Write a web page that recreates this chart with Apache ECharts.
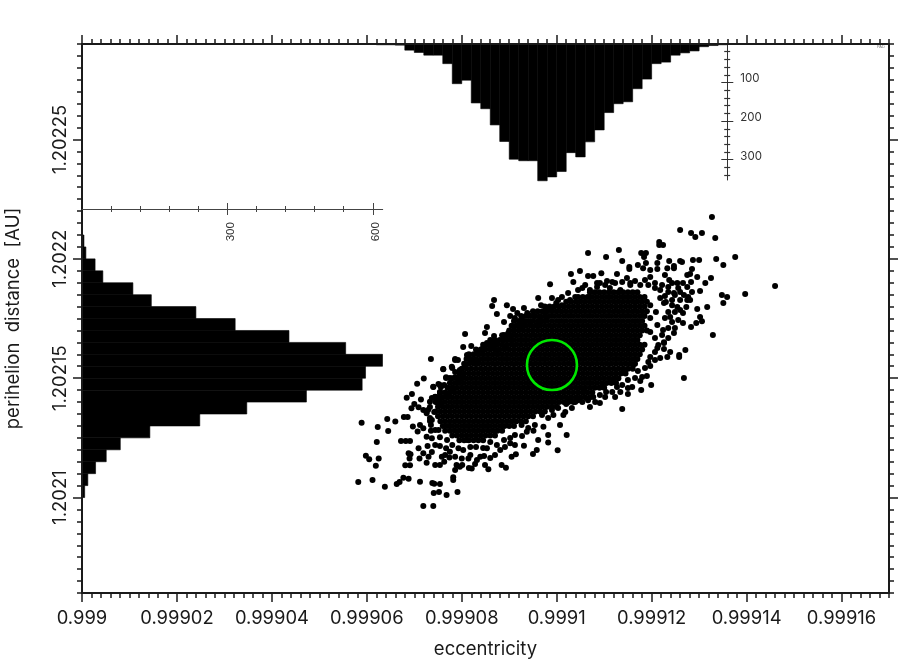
<!DOCTYPE html>
<html><head><meta charset="utf-8">
<style>html,body{margin:0;padding:0;background:#fff}#c{width:900px;height:660px}</style>
<script src="https://cdn.jsdelivr.net/npm/echarts@6/dist/echarts.min.js"></script>
</head><body><div id="c"></div>
<script>
// Scatter values are stored in units of 1e-7: eccentricity = 0.999 + e*1e-7, perihelion = 1.202 + q*1e-7
const fringePoints = [
[589,1313],[623,1295],[643,1329],[660,1319],[645,1279],[621,1233],[598,1175],[605,1160],[625,1163],[619,1133],[582,1065],[612,1073],[638,1045],[663,1057],[669,1065],[677,1083],[688,1079],[712,1066],[738,1061],[742,1058],[754,1057],[741,1019],[752,1023],[768,1011],[791,1023],[719,964],[740,964],[782,1085],[782,1073],[681,1135],[691,1135],[688,1185],[692,1181],[690,1164],[672,1237],[682,1237],[691,1237],[697,1298],[707,1277],[678,1337],[686,1337],[684,1418],[695,1434],[706,1477],[720,1499],[700,1392],[714,1411],[694,1374],[709,1378],[719,1367],[726,1353],[733,1401],[744,1422],[740,1464],[751,1476],[756,1462],[761,1537],[767,1504],[779,1548],[786,1504],[793,1485],[768,1437],[753,1413],[754,1388],[733,1321],[735,1304],[712,1304],[719,1290],[726,1255],[735,1280],[709,1206],[719,1185],[728,1216],[711,1163],[726,1146],[730,1171],[737,1248],[751,1283],[744,1136],[754,1136],[763,1150],[758,1171],[774,1168],[786,1171],[789,1136],[786,1115],[796,1129],[800,1164],[814,1164],[754,1216],[767,1206],[775,1192],[793,1206],[811,1241],[821,1122],[828,1140],[839,1171],[849,1136],[856,1118],[853,1206],[870,1178],[884,1136],[893,1125],[905,1171],[914,1181],[902,1227],[931,1217],[950,1182],[958,1199],[1002,1198],[982,1230],[961,1241],[937,1276],[951,1280],[982,1262],[972,1297],[1007,1304],[1021,1262],[993,1346],[1014,1346],[926,1304],
[1032,1375],[1045,1408],[1070,1379],[1091,1396],[1102,1421],[1123,1421],[1138,1371],[1020,1392],[1150,1434],[1178,1450],[1199,1471],[1190,1509],[1180,1505],[1171,1530],[1159,1463],[1127,1463],[1119,1484],[1096,1463],[1077,1421],[1056,1442],[1144,1522],[1161,1555],
[1268,1501],[1271,1618],[1258,1589],[1239,1610],[1233,1589],[1218,1584],[1197,1589],[1212,1626],[1226,1622],[1258,1597],[1247,1689],[1224,1702],[1226,1647],[1329,1681],[1266,1773],[1306,1739],[1302,1756],[1294,1731],[1283,1714],[1266,1731],[1256,1744],[1239,1756],[1243,1827],[1226,1815],[1254,1798],[1273,1798],[1275,1827],[1296,1790],[1317,1798],[1351,1815],[1348,1848],[1359,1840],[1397,1853],[1460,1886],[1302,1865],[1285,1861],[1275,1882],[1235,1861],[1218,1869],[1228,1844],[1249,1848],[1260,1827],[1277,1840],[1207,1899],[1186,1911],[1155,1890],[1134,1869],[1112,1878],[1091,1899],
[1327,2175],[1260,2121],[1283,2108],[1292,2091],[1306,2108],[1334,2087],[1216,2070],[1216,2058],[1224,2058],[1066,2024],[1131,2037],[1104,2008],[1138,1991],[1178,2024],[1188,2024],[1184,2008],[1216,2008],[1212,1982],[1188,1982],[1237,1991],[1260,1991],[1264,1987],[1287,1995],[1300,1995],[1336,1999],[1351,1974],[1376,2008],[1153,1966],[1153,1957],[1171,1974],[1247,1970],[1247,1961],[1233,1961],[1212,1957],[1197,1953],[1182,1961],[1049,1949],[1094,1940],[1066,1928],[1077,1928],[1127,1936],[1030,1936],[1285,1957],[1281,1936],[1275,1932],[1296,1924],[1325,1920],[1313,1899],[1283,1903],[1266,1899],[1254,1899],[1237,1911],[1228,1932],[1197,1924],[1106,1907],[1148,1920],[1165,1907],[1035,1903],[1054,1878],[1085,1882],[1123,1899],
[986,1894],[868,1827],[864,1802],[895,1806],[874,1769],[908,1790],[961,1836],[967,1806],[990,1836],[1011,1840],[931,1794],[902,1760],[917,1773],[889,1735],[927,1756],[940,1765],[853,1714],[849,1689],[807,1685],[868,1677],[889,1681],[803,1631],[820,1635],[735,1580],[786,1580],[813,1593],[845,1626],[864,1647],[906,1660],[923,1714],[959,1723],[965,1756],[980,1786],[761,1538],[767,1501],[740,1463],[754,1471],[780,1543],[786,1576],[845,1618],[853,1647],[866,1639],[902,1681],[938,1773],[1003,1827],[990,1794],[811,1597],[792,1576],[790,1501],[754,1438],[744,1421],[733,1379],[737,1325]
];
const edgePoints = [
[834,1610],[847,1639],[860,1631],[874,1651],[887,1660],[898,1689],[910,1702],[923,1735],[912,1752],[931,1723],[944,1735],[952,1760],[976,1777],[965,1735],[978,1752],[891,1626],[877,1618],[822,1576],[807,1555],[834,1568],[796,1534],[786,1526],[775,1501],[801,1501],[763,1471],[780,1459],[754,1442],[771,1429],[737,1417],[748,1400],[729,1367],[742,1358],[733,1333],
[999,1815],[1011,1806],[1028,1827],[1039,1840],[1024,1857],[1045,1869],[1060,1890],[1070,1869],[1085,1899],[1102,1890],[1117,1903],[1138,1903],[1155,1899],[1176,1890],[1193,1890],[1207,1878],[1222,1890],[1235,1882],[1243,1899],[1256,1878],[1247,1857],[1260,1861],[1268,1848],[1281,1827],[1218,1836],[1230,1819],[1243,1806],[1235,1777],[1249,1777],[1260,1786],[1228,1752],[1243,1735],[1235,1710],[1249,1710],[1222,1681],[1235,1668],[1214,1639],[1226,1651],
[1207,1610],[1193,1568],[1207,1576],[1186,1543],[1197,1551],[1176,1488],[1165,1501],[1150,1492],[1138,1471],[1150,1459],[1134,1442],[1117,1442],[1104,1442],[1091,1429],[1081,1400],[1066,1408],[1054,1400],[1039,1400],[1028,1408],[1018,1358],[1003,1375],[990,1367],[982,1333],[969,1346],[954,1304],[940,1291],[927,1258],[912,1262],[902,1249],[889,1241],[874,1220],[860,1233],[845,1207],[830,1212],[818,1212],[803,1199],[818,1178],[832,1157],[847,1174],[860,1166],[881,1199],[891,1212],[912,1220],[780,1220],[769,1241],[754,1253],[744,1283],[765,1178],[744,1220],[737,1191],[801,1136],[815,1124],
[1197,1806],[1209,1777],[1197,1752],[1212,1723],[1197,1693],[1207,1668]
];
const coreRowPerihelion = [1860,1840,1820,1800,1780,1760,1740,1720,1700,1680,1660,1640,1620,1600,1580,1560,1540,1520,1500,1480,1460,1440,1420,1400,1380,1360,1340,1320,1300,1280,1260,1240];
const coreRowEccentricity = [
[1070,1080,1090,1100,1110,1120,1130,1140,1150,1160,1170],
[1045,1055,1065,1075,1085,1095,1105,1115,1125,1135,1145,1155,1165,1175,1185],
[1020,1030,1040,1050,1060,1070,1080,1090,1100,1110,1120,1130,1140,1150,1160,1170,1180,1190],
[975,985,995,1005,1015,1025,1035,1045,1055,1065,1075,1085,1095,1105,1115,1125,1135,1145,1155,1165,1175,1185],
[950,960,970,980,990,1000,1010,1020,1030,1040,1050,1060,1070,1080,1090,1100,1110,1120,1130,1140,1150,1160,1170,1180,1190],
[925,935,945,955,965,975,985,995,1005,1015,1025,1035,1045,1055,1065,1075,1085,1095,1105,1115,1125,1135,1145,1155,1165,1175,1185],
[910,920,930,940,950,960,970,980,990,1000,1010,1020,1030,1040,1050,1060,1070,1080,1090,1100,1110,1120,1130,1140,1150,1160,1170,1180],
[905,915,925,935,945,955,965,975,985,995,1005,1015,1025,1035,1045,1055,1065,1075,1085,1095,1105,1115,1125,1135,1145,1155,1165,1175,1185],
[900,910,920,930,940,950,960,970,980,990,1000,1010,1020,1030,1040,1050,1060,1070,1080,1090,1100,1110,1120,1130,1140,1150,1160,1170,1180,1190],
[885,895,905,915,925,935,945,955,965,975,985,995,1005,1015,1025,1035,1045,1055,1065,1075,1085,1095,1105,1115,1125,1135,1145,1155,1165,1175],
[860,870,880,890,900,910,920,930,940,950,960,970,980,990,1000,1010,1020,1030,1040,1050,1060,1070,1080,1090,1100,1110,1120,1130,1140,1150,1160,1170],
[845,855,865,875,885,895,905,915,925,935,945,955,965,975,985,995,1005,1015,1025,1035,1045,1055,1065,1075,1085,1095,1105,1115,1125,1135,1145,1155,1165,1175,1185],
[830,840,850,860,870,880,890,900,910,920,930,940,950,960,970,980,990,1000,1010,1020,1030,1040,1050,1060,1070,1080,1090,1100,1110,1120,1130,1140,1150,1160,1170,1180],
[815,825,835,845,855,865,875,885,895,905,915,925,935,945,955,965,975,985,995,1005,1015,1025,1035,1045,1055,1065,1075,1085,1095,1105,1115,1125,1135,1145,1155,1165,1175],
[810,820,830,840,850,860,870,880,890,900,910,920,930,940,950,960,970,980,990,1000,1010,1020,1030,1040,1050,1060,1070,1080,1090,1100,1110,1120,1130,1140,1150,1160,1170],
[805,815,825,835,845,855,865,875,885,895,905,915,925,935,945,955,965,975,985,995,1005,1015,1025,1035,1045,1055,1065,1075,1085,1095,1105,1115,1125,1135,1145,1155,1165],
[800,810,820,830,840,850,860,870,880,890,900,910,920,930,940,950,960,970,980,990,1000,1010,1020,1030,1040,1050,1060,1070,1080,1090,1100,1110,1120,1130,1140,1150,1160],
[795,805,815,825,835,845,855,865,875,885,895,905,915,925,935,945,955,965,975,985,995,1005,1015,1025,1035,1045,1055,1065,1075,1085,1095,1105,1115,1125,1135,1145],
[780,790,800,810,820,830,840,850,860,870,880,890,900,910,920,930,940,950,960,970,980,990,1000,1010,1020,1030,1040,1050,1060,1070,1080,1090,1100,1110,1120,1130],
[775,785,795,805,815,825,835,845,855,865,875,885,895,905,915,925,935,945,955,965,975,985,995,1005,1015,1025,1035,1045,1055,1065,1075,1085,1095,1105,1115,1125],
[770,780,790,800,810,820,830,840,850,860,870,880,890,900,910,920,930,940,950,960,970,980,990,1000,1010,1020,1030,1040,1050,1060,1070,1080,1090,1100],
[755,765,775,785,795,805,815,825,835,845,855,865,875,885,895,905,915,925,935,945,955,965,975,985,995,1005,1015,1025,1035,1045,1055,1065,1075],
[750,760,770,780,790,800,810,820,830,840,850,860,870,880,890,900,910,920,930,940,950,960,970,980,990,1000,1010,1020,1030,1040,1050,1060,1070],
[745,755,765,775,785,795,805,815,825,835,845,855,865,875,885,895,905,915,925,935,945,955,965,975,985,995,1005,1015,1025,1035],
[750,760,770,780,790,800,810,820,830,840,850,860,870,880,890,900,910,920,930,940,950,960,970,980,990,1000],
[745,755,765,775,785,795,805,815,825,835,845,855,865,875,885,895,905,915,925,935,945,955,965,975],
[750,760,770,780,790,800,810,820,830,840,850,860,870,880,890,900,910,920,930,940,950],
[755,765,775,785,795,805,815,825,835,845,855,865,875,885,895,905,915,925,935],
[760,770,780,790,800,810,820,830,840,850,860,870,880,890,900,910],
[765,775,785,795,805,815,825,835,845,855,865,875,885],
[780,790,800,810,820,830,840,850,860,870],
[795,805,815,825,835,845]
];
const nominalOrbit = [0.999099, 1.2021555];

// Histogram of eccentricity, bins starting at 0.999058, each 0.000002 wide
const eccHistCounts = [1,1,2,2,3,16,22,29,29,51,103,94,153,168,210,253,299,303,303,355,345,331,282,293,254,223,178,155,150,116,91,51,47,29,23,18,7,4,2];
// Histogram of perihelion distance, bins starting at 1.202095, each 0.000005 wide
const periHistCounts = [1,5.5,12,28,50,79,140,243,340,463,578,585,620,544,427,316,235,143,105,43,27,8,4,1];

const xMajorTicks = [0.999,0.99902,0.99904,0.99906,0.99908,0.9991,0.99912,0.99914,0.99916];
const yMajorTicks = [1.2021,1.20215,1.2022,1.20225];
const insetCountMajor = [100,200,300];
const insetCountMinor = [20,40,60,80,120,140,160,180,220,240,260,280,320,340];
const insetPeriMajor = [300,600];
const insetPeriMinor = [60,120,180,240,360,420,480,540];

const FONT = 'Inter';
const INK = '#1a1a1a';
const range = (a, n, s, d) => Array.from({length:n}, (_, i) => +(a + i * s).toFixed(d));
const xMinor = range(0.999, 86, 0.000002, 6).filter(v => !xMajorTicks.includes(v));
const yMinor = range(1.20206, 47, 0.000005, 6).filter(v => !yMajorTicks.includes(v));

const scatterData = fringePoints.concat(edgePoints).map(p => [0.999 + p[0] * 1e-7, 1.202 + p[1] * 1e-7]);
coreRowPerihelion.forEach((q, i) => coreRowEccentricity[i].forEach(e => scatterData.push([0.999 + e * 1e-7, 1.202 + q * 1e-7])));

const eccBars = eccHistCounts.map((c, i) => [0.999058 + i * 0.000002, 0.999058 + (i + 1) * 0.000002, c]);
const periBars = periHistCounts.map((c, i) => [1.202095 + i * 0.000005, 1.202095 + (i + 1) * 0.000005, c]);

const X = [0.999, 0.99917], Y = [1.20206, 1.20229];
const tickAxis = (o, values, len, w, color) => Object.assign({
  type:'value', min:o.min, max:o.max, axisLine:{show:false, onZero:false}, splitLine:{show:false},
  axisTick:{show:true, length:len, customValues:values, lineStyle:{color:color||INK, width:w}},
  axisLabel:{show:false}, z:10, silent:true
}, o);
const lineOn = {show:true, onZero:false, lineStyle:{color:INK, width:2}};
const xAxis = [
  tickAxis({gridIndex:0,position:'bottom',min:X[0],max:X[1],axisLine:lineOn,name:'eccentricity',nameLocation:'middle',nameGap:47,nameTextStyle:{fontFamily:FONT,fontSize:18.5,color:INK}}, xMajorTicks, 9, 1.5),
  tickAxis({gridIndex:0,position:'bottom',min:X[0],max:X[1]}, xMinor, 5, 1.5),
  tickAxis({gridIndex:0,position:'top',min:X[0],max:X[1],axisLine:lineOn}, xMajorTicks, 9, 1.5),
  tickAxis({gridIndex:0,position:'top',min:X[0],max:X[1]}, xMinor, 5, 1.5),
  {gridIndex:1,type:'value',min:X[0],max:X[1],show:false},
  tickAxis({gridIndex:2,position:'top',min:0,max:620.4,axisLine:{show:true,onZero:false,lineStyle:{color:'#444',width:1}}}, [], 0, 1),
  tickAxis({gridIndex:2,position:'top',offset:-6,min:0,max:620.4}, insetPeriMajor, 12, 1, '#444'),
  tickAxis({gridIndex:2,position:'top',offset:-3,min:0,max:620.4}, insetPeriMinor, 6, 1, '#444')
];
xAxis[0].axisLabel = {show:true, customValues:xMajorTicks, margin:16, fontFamily:FONT, fontSize:18.4, color:INK, formatter:v=>String(v)};
xAxis[5].axisLabel = {show:true, inside:true, customValues:insetPeriMajor, rotate:-90, margin:13, verticalAlign:'top', lineHeight:6, fontFamily:'Liberation Sans', fontSize:11.6, color:'#333', formatter:v=>String(v)};
xAxis[5].axisTick.show = false;
const yAxis = [
  tickAxis({gridIndex:0,position:'left',min:Y[0],max:Y[1],axisLine:lineOn,name:'perihelion  distance  [AU]',nameLocation:'middle',nameGap:59,nameTextStyle:{fontFamily:FONT,fontSize:18.5,color:INK}}, yMajorTicks, 9, 1.5),
  tickAxis({gridIndex:0,position:'left',min:Y[0],max:Y[1]}, yMinor, 5, 1.5),
  tickAxis({gridIndex:0,position:'right',min:Y[0],max:Y[1],axisLine:lineOn}, yMajorTicks, 9, 1.5),
  tickAxis({gridIndex:0,position:'right',min:Y[0],max:Y[1]}, yMinor, 5, 1.5),
  tickAxis({gridIndex:1,position:'left',offset:-645.3,inverse:true,min:0,max:353,axisLine:{show:true,onZero:false,lineStyle:{color:'#333',width:1}}}, [], 0, 1),
  tickAxis({gridIndex:1,position:'left',offset:-651.3,inverse:true,min:0,max:353}, insetCountMajor, 12, 1, '#333'),
  tickAxis({gridIndex:1,position:'left',offset:-648.2,inverse:true,min:0,max:353}, insetCountMinor, 6, 1.2, '#333'),
  {gridIndex:2,type:'value',min:Y[0],max:1.2022209,show:false}
];
yAxis[0].axisLabel = {show:true, customValues:yMajorTicks, rotate:90, margin:13, fontFamily:FONT, fontSize:18.4, color:INK, formatter:v=>String(v)};
yAxis[4].axisLabel = {show:true, inside:true, customValues:insetCountMajor, margin:13, verticalAlign:'bottom', lineHeight:7, fontFamily:FONT, fontSize:11.5, color:'#333', formatter:v=>String(v)};
yAxis[4].axisTick.show = false;

const barStyle = {fill:'#000', stroke:'#000', lineWidth:0.6};
const chart = echarts.init(document.getElementById('c'), null, {renderer:'canvas'});
chart.setOption({
  animation:false, backgroundColor:'#fff',
  grid:[
    {left:82, top:44, width:807, height:549, outerBoundsMode:'none'},
    {left:82, top:44, width:807, height:136, outerBoundsMode:'none'},
    {left:82, top:209, width:300.7, height:384, outerBoundsMode:'none'}
  ],
  xAxis, yAxis,
  series:[
    {type:'custom', xAxisIndex:4, yAxisIndex:4, clip:false, z:3, silent:true, data:eccBars,
     renderItem:(p, api) => {
       const a = api.coord([api.value(0), 0]), b = api.coord([api.value(1), api.value(2)]);
       return {type:'rect', shape:{x:a[0], y:a[1], width:b[0]-a[0], height:b[1]-a[1]}, style:barStyle};
     }},
    {type:'custom', xAxisIndex:5, yAxisIndex:7, clip:false, z:3, silent:true, data:periBars,
     renderItem:(p, api) => {
       const a = api.coord([0, api.value(1)]), b = api.coord([api.value(2), api.value(0)]);
       return {type:'rect', shape:{x:a[0], y:a[1], width:b[0]-a[0], height:b[1]-a[1]}, style:barStyle};
     }},
    {type:'scatter', xAxisIndex:0, yAxisIndex:0, z:4, silent:true, data:scatterData, symbol:'circle', symbolSize:6, itemStyle:{color:'#000', opacity:1}},
    {type:'scatter', xAxisIndex:0, yAxisIndex:0, z:5, silent:true, data:[nominalOrbit], symbol:'circle', symbolSize:50, itemStyle:{color:'rgba(0,0,0,0)', borderColor:'#00e800', borderWidth:2.6, opacity:1}}
  ],
  graphic:[{type:'text', x:877, y:45, z:20, style:{text:'PAD', fontSize:4, fill:'#777', fontFamily:'Liberation Sans'}}]
});
</script></body></html>
